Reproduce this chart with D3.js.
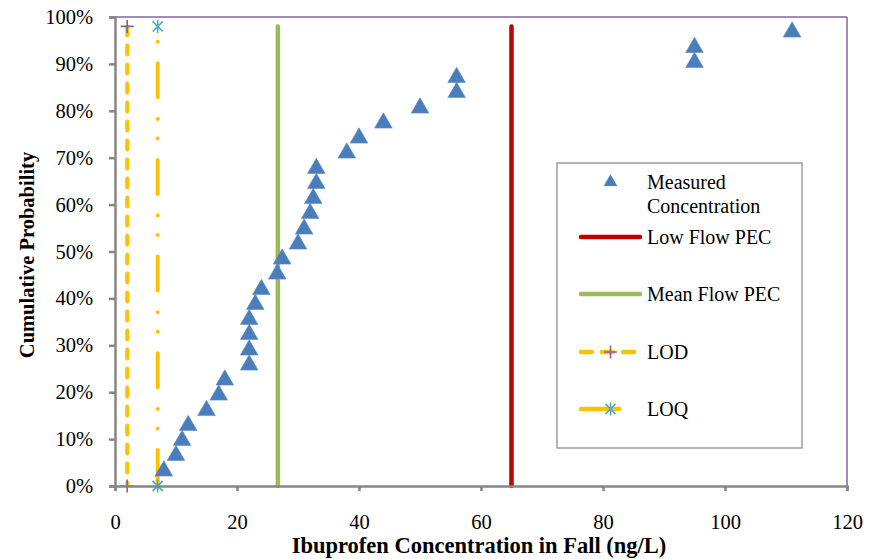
<!DOCTYPE html>
<html>
<head>
<meta charset="utf-8">
<script src="https://cdn.jsdelivr.net/npm/d3@7.9.0/dist/d3.min.js"></script>
<style>
  body { margin: 0; background: #fff; }
  svg text { font-family: "Liberation Serif", "Times New Roman", serif; fill: #000; }
  .axis-title { font-weight: bold; }
  .legend-text { font-size: 20px; }
</style>
</head>
<body>
<div id="chart"></div>
<script>
// measured ibuprofen concentrations (ng/L) and their cumulative probabilities
const concentrations = [8, 10, 11, 12, 15, 17, 18, 22, 22, 22, 22, 23, 24, 26.6, 27.4,
  30, 31, 32, 32.5, 33, 33, 38, 40, 44, 50, 56, 56, 95, 95, 111];
const probabilities = [0.032, 0.065, 0.097, 0.129, 0.161, 0.194, 0.226, 0.258, 0.290, 0.323,
  0.355, 0.387, 0.419, 0.452, 0.484, 0.516, 0.548, 0.581, 0.613, 0.645,
  0.677, 0.710, 0.742, 0.774, 0.806, 0.839, 0.871, 0.903, 0.935, 0.968];

const lowFlowPEC = 65;
const meanFlowPEC = 26.7;
const lod = 2;
const loq = 7;
const refSpan = [0, 0.98];

const xTicks = [0, 20, 40, 60, 80, 100, 120];
const yTicks = [0, 0.1, 0.2, 0.3, 0.4, 0.5, 0.6, 0.7, 0.8, 0.9, 1.0];

const legendLabels = [["Measured", "Concentration"], ["Low Flow PEC"], ["Mean Flow PEC"], ["LOD"], ["LOQ"]];

const width = 877, height = 559;
const margin = { top: 17, right: 30, bottom: 73, left: 115 };
const innerW = width - margin.left - margin.right;
const innerH = height - margin.top - margin.bottom;
const serif = '"Liberation Serif", "Times New Roman", serif';

const colors = {
  axis: "#868686",
  frame: "#8064A2",
  tri: "#4A7EBB",
  red: "#C00000",
  green: "#9BBB59",
  orange: "#FFC000",
  purple: "#8064A2",
  cyan: "#4BACC6"
};

const svg = d3.select("#chart").append("svg")
  .attr("width", width)
  .attr("height", height);

const g = svg.append("g")
  .attr("transform", `translate(${margin.left}, ${margin.top})`);

const x = d3.scaleLinear().domain([0, 120]).range([0, innerW]);
const y = d3.scaleLinear().domain([0, 1]).range([innerH, 0]);

// frame top/right
g.append("line")
  .attr("x1", 0).attr("x2", innerW).attr("y1", 0).attr("y2", 0)
  .attr("stroke", colors.frame).attr("stroke-width", 1.5);
g.append("line")
  .attr("x1", innerW).attr("x2", innerW).attr("y1", 0).attr("y2", innerH)
  .attr("stroke", colors.frame).attr("stroke-width", 1.5);

// markers for LOD / LOQ
const plus = (sel, cx, cy) => {
  sel.append("path")
    .attr("d", `M${cx - 6.5},${cy}H${cx + 6.5}M${cx},${cy - 6.5}V${cy + 6.5}`)
    .attr("stroke", colors.purple).attr("stroke-width", 1.6).attr("fill", "none");
};
const star = (sel, cx, cy) => {
  const r = 6.5, d = r * 0.78;
  sel.append("path")
    .attr("d", `M${cx},${cy - r}V${cy + r}M${cx - d},${cy - d}L${cx + d},${cy + d}M${cx - d},${cy + d}L${cx + d},${cy - d}`)
    .attr("stroke", colors.cyan).attr("stroke-width", 1.6).attr("fill", "none");
};

// reference lines
g.append("line")
  .attr("x1", x(lod)).attr("x2", x(lod))
  .attr("y1", y(refSpan[1])).attr("y2", y(refSpan[0]))
  .attr("stroke", colors.orange).attr("stroke-width", 4)
  .attr("stroke-linecap", "round").attr("stroke-dasharray", "9 10");

g.append("line")
  .attr("x1", x(loq)).attr("x2", x(loq))
  .attr("y1", y(refSpan[0]) - 2).attr("y2", y(refSpan[1]))
  .attr("stroke", colors.orange).attr("stroke-width", 4)
  .attr("stroke-linecap", "round").attr("stroke-dasharray", "34 21.5 0 19.5 0 21.7");

g.append("line")
  .attr("x1", x(meanFlowPEC)).attr("x2", x(meanFlowPEC))
  .attr("y1", y(refSpan[0])).attr("y2", y(refSpan[1]))
  .attr("stroke", colors.green).attr("stroke-width", 4.5).attr("stroke-linecap", "round");

g.append("line")
  .attr("x1", x(lowFlowPEC)).attr("x2", x(lowFlowPEC))
  .attr("y1", y(refSpan[0])).attr("y2", y(refSpan[1]))
  .attr("stroke", colors.red).attr("stroke-width", 4.5).attr("stroke-linecap", "round");

refSpan.forEach(p => {
  plus(g, x(lod), y(p));
  star(g, x(loq), y(p));
});

// axes
const yAxis = g.append("g")
  .call(d3.axisLeft(y).tickValues(yTicks).tickFormat(d3.format(".0%")).tickSize(6).tickPadding(16));
const xAxis = g.append("g")
  .attr("transform", `translate(0, ${innerH})`)
  .call(d3.axisBottom(x).tickValues(xTicks).tickSize(5).tickPadding(23));

[xAxis, yAxis].forEach(ax => {
  ax.attr("font-size", null).attr("font-family", null);
  ax.select(".domain").attr("stroke", colors.axis).attr("stroke-width", 2.5);
  ax.selectAll(".tick line").attr("stroke", colors.axis).attr("stroke-width", 2.5);
  ax.selectAll(".tick text")
    .attr("fill", "#000")
    .style("font-family", serif)
    .style("font-size", "20.5px");
});

// measured points
const tri = d3.symbol().type(d3.symbolTriangle).size(135);
g.selectAll("path.pt")
  .data(concentrations.map((c, i) => ({ c, p: probabilities[i] })))
  .join("path")
    .attr("class", "pt")
    .attr("d", tri)
    .attr("transform", dp => `translate(${x(dp.c)}, ${y(dp.p)})`)
    .attr("fill", colors.tri)
    .attr("stroke", "#5A8AC6").attr("stroke-width", 0.6);

// axis titles
svg.append("text")
  .attr("class", "axis-title")
  .attr("x", 479)
  .attr("y", 553)
  .attr("text-anchor", "middle")
  .style("font-size", "22.5px")
  .text("Ibuprofen Concentration  in Fall (ng/L)");

svg.append("text")
  .attr("class", "axis-title")
  .attr("transform", "translate(34, 255) rotate(-90)")
  .attr("text-anchor", "middle")
  .style("font-size", "20.5px")
  .text("Cumulative Probability");

// legend
const legend = svg.append("g").attr("transform", "translate(557, 163)");
legend.append("rect")
  .attr("width", 245).attr("height", 285)
  .attr("fill", "#fff").attr("stroke", colors.axis).attr("stroke-width", 1.2);

const rowY = [19, 74, 131, 189, 246];
const lx0 = 24, lx1 = 83, tx = 90;

legend.append("path")
  .attr("d", d3.symbol().type(d3.symbolTriangle).size(80))
  .attr("transform", `translate(${(lx0 + lx1) / 2}, ${rowY[0]})`)
  .attr("fill", colors.tri);

legend.append("line")
  .attr("x1", lx0).attr("x2", lx1).attr("y1", rowY[1]).attr("y2", rowY[1])
  .attr("stroke", colors.red).attr("stroke-width", 4.5).attr("stroke-linecap", "round");
legend.append("line")
  .attr("x1", lx0).attr("x2", lx1).attr("y1", rowY[2]).attr("y2", rowY[2])
  .attr("stroke", colors.green).attr("stroke-width", 4.5).attr("stroke-linecap", "round");
legend.append("line")
  .attr("x1", lx0).attr("x2", lx1).attr("y1", rowY[3]).attr("y2", rowY[3])
  .attr("stroke", colors.orange).attr("stroke-width", 4.5)
  .attr("stroke-linecap", "round").attr("stroke-dasharray", "11 10");
plus(legend, (lx0 + lx1) / 2, rowY[3]);
legend.append("line")
  .attr("x1", lx0).attr("x2", lx0 + 38).attr("y1", rowY[4]).attr("y2", rowY[4])
  .attr("stroke", colors.orange).attr("stroke-width", 4.5).attr("stroke-linecap", "round");
star(legend, (lx0 + lx1) / 2, rowY[4]);

legendLabels.forEach((lines, i) => {
  const t = legend.append("text")
    .attr("class", "legend-text")
    .attr("x", tx)
    .attr("y", rowY[i] + 7);
  lines.forEach((ln, j) => {
    t.append("tspan").attr("x", tx).attr("dy", j === 0 ? 0 : 24).text(ln);
  });
});
</script>
</body>
</html>
